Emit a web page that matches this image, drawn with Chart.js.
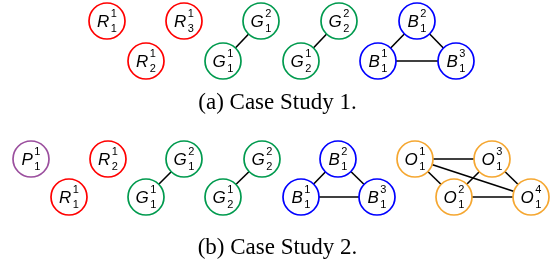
<!DOCTYPE html>
<html>
<head>
<meta charset="utf-8">
<script src="https://cdn.jsdelivr.net/npm/chart.js@4/dist/chart.umd.min.js"></script>
<style>
  html, body { margin: 0; padding: 0; background: #ffffff; }
  #wrap { width: 556px; height: 267px; }
</style>
</head>
<body>
<div id="wrap"><canvas id="c" width="556" height="267"></canvas></div>
<script>
// ---- Data ----
const groupNames  = ['P', 'R', 'G', 'B', 'O'];
const groupColors = ['#9b4f9e', '#ff0000', '#009a4e', '#0000ff', '#f5a731'];

// Panel (a)
const aLetter = ['R','R','R','G','G','G','G','B','B','B'];
const aSub    = ['1','3','2','1','1','2','2','1','1','1'];
const aSup    = ['1','1','1','2','1','2','1','2','1','3'];
const aX      = [107,184,146,261,223,339,301,417,378,456];
const aY      = [21,21,61,21,61,21,61,21,61,61];
const aEdges  = [[3,4],[5,6],[7,8],[7,9],[8,9]];
const aCaption = '(a) Case Study 1.';

// Panel (b)
const bLetter = ['P','R','R','G','G','G','G','B','B','B','O','O','O','O'];
const bSub    = ['1','1','2','1','1','2','2','1','1','1','1','1','1','1'];
const bSup    = ['1','1','1','2','1','2','1','2','1','3','1','3','2','4'];
const bX      = [31,69,108,184,146,262,223,338,301,377,415,492,454,531];
const bY      = [159,197,159,159,197,159,197,159,197,197,159,159,197,197];
const bEdges  = [[3,4],[5,6],[7,8],[7,9],[8,9],[10,11],[10,12],[10,13],[11,12],[11,13],[12,13]];
const bCaption = '(b) Case Study 2.';

// ---- Build datasets ----
const panels = [
  {letter: aLetter, sub: aSub, sup: aSup, x: aX, y: aY, edges: aEdges, caption: aCaption, capY: 103},
  {letter: bLetter, sub: bSub, sup: bSup, x: bX, y: bY, edges: bEdges, caption: bCaption, capY: 248}
];

const datasets = [];
panels.forEach(p => {
  p.edges.forEach(e => {
    datasets.push({
      type: 'scatter',
      data: [{x: p.x[e[0]], y: p.y[e[0]]}, {x: p.x[e[1]], y: p.y[e[1]]}],
      showLine: true,
      borderColor: '#000000',
      borderWidth: 1.6,
      pointRadius: 0,
      pointHoverRadius: 0,
      order: 2
    });
  });
});
groupNames.forEach((g, gi) => {
  const pts = [];
  panels.forEach(p => {
    p.letter.forEach((L, i) => {
      if (L === g) pts.push({x: p.x[i], y: p.y[i], letter: L, sub: p.sub[i], sup: p.sup[i]});
    });
  });
  datasets.push({
    type: 'scatter',
    data: pts,
    showLine: false,
    pointRadius: 18,
    pointHoverRadius: 18,
    pointBackgroundColor: '#ffffff',
    pointBorderColor: groupColors[gi],
    pointBorderWidth: 1.7,
    pointHoverBorderWidth: 1.7,
    order: 1
  });
});

const labelPlugin = {
  id: 'nodeLabels',
  afterDatasetsDraw(chart) {
    const ctx = chart.ctx;
    const xs = chart.scales.x, ys = chart.scales.y;
    ctx.save();
    ctx.fillStyle = '#000000';
    ctx.textBaseline = 'alphabetic';
    chart.data.datasets.forEach(ds => {
      ds.data.forEach(pt => {
        if (!pt.letter) return;
        const cx = xs.getPixelForValue(pt.x);
        const cy = ys.getPixelForValue(pt.y);
        ctx.font = 'italic 17px "Liberation Sans", Arial, sans-serif';
        const lw = ctx.measureText(pt.letter).width;
        ctx.font = '11px "Liberation Sans", Arial, sans-serif';
        const sw = Math.max(ctx.measureText(pt.sub).width, ctx.measureText(pt.sup).width);
        const total = lw + 1.5 + sw;
        const left = cx - total / 2;
        ctx.font = 'italic 17px "Liberation Sans", Arial, sans-serif';
        ctx.textAlign = 'left';
        ctx.fillText(pt.letter, left, cy + 5.5);
        ctx.font = '11px "Liberation Sans", Arial, sans-serif';
        ctx.fillText(pt.sup, left + lw + 1.5, cy - 4);
        ctx.fillText(pt.sub, left + lw + 1.5, cy + 11);
      });
    });
    // captions
    ctx.font = '23px "Liberation Serif", "Times New Roman", serif';
    ctx.textAlign = 'center';
    ctx.textBaseline = 'middle';
    panels.forEach(p => {
      ctx.fillText(p.caption, xs.getPixelForValue(277.5), ys.getPixelForValue(p.capY));
    });
    ctx.restore();
  }
};

new Chart(document.getElementById('c'), {
  data: { datasets },
  options: {
    responsive: false,
    animation: false,
    events: [],
    layout: { padding: 0, autoPadding: false },
    plugins: { legend: { display: false }, tooltip: { enabled: false }, title: { display: false } },
    scales: {
      x: { type: 'linear', min: 0, max: 556, display: false },
      y: { type: 'linear', min: 0, max: 267, reverse: true, display: false }
    },
    elements: { line: { tension: 0 } }
  },
  plugins: [labelPlugin]
});
</script>
</body>
</html>
